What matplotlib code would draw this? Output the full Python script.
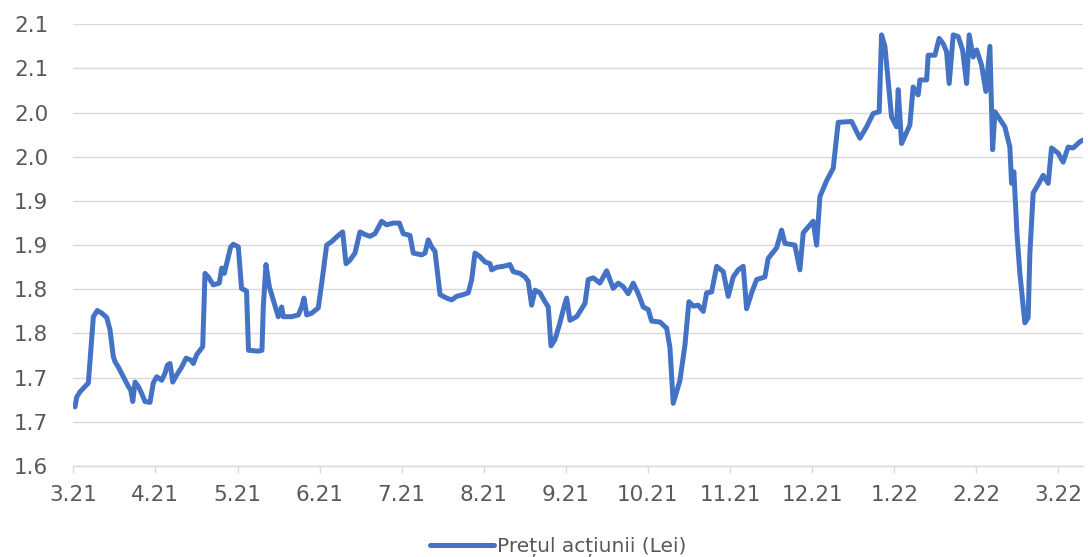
import numpy as np
import matplotlib
matplotlib.use("Agg")
import matplotlib.pyplot as plt

# position in months since 3.21 (category-axis spacing) and share price
t = [0.021, 0.041, 0.082, 0.163, 0.183, 0.244, 0.292, 0.346, 0.407, 0.447,
     0.487, 0.508, 0.548, 0.609, 0.670, 0.699, 0.724, 0.752, 0.792, 0.833,
     0.873, 0.934, 0.974, 1.016, 1.077, 1.117, 1.145, 1.178, 1.211, 1.259,
     1.320, 1.373, 1.430, 1.462, 1.503, 1.543, 1.576, 1.604, 1.644, 1.705,
     1.778, 1.808, 1.839, 1.868, 1.917, 1.949, 2.010,
     2.049, 2.110, 2.134, 2.253, 2.298, 2.314, 2.347, 2.387, 2.436, 2.497,
     2.538, 2.558, 2.660, 2.741, 2.782, 2.810, 2.843, 2.904, 2.984, 3.026,
     3.086, 3.147, 3.216, 3.281, 3.322, 3.370, 3.431, 3.492, 3.553, 3.614,
     3.675, 3.756, 3.817, 3.898, 3.971, 4.019, 4.101,
     4.141, 4.244, 4.284, 4.324, 4.365, 4.406, 4.467, 4.548, 4.609, 4.670,
     4.750, 4.811, 4.853, 4.893, 4.954, 5.015, 5.076, 5.096, 5.157, 5.238,
     5.319, 5.359, 5.441, 5.502, 5.542, 5.583, 5.624, 5.685, 5.745, 5.786,
     5.819, 5.867, 5.928, 5.977, 6.010, 6.050, 6.132, 6.172, 6.233, 6.273,
     6.334, 6.415, 6.497, 6.537, 6.577, 6.638, 6.699, 6.760, 6.821, 6.882,
     6.943, 7.004, 7.045, 7.146, 7.228, 7.268, 7.308, 7.390, 7.451, 7.499,
     7.552, 7.613, 7.674, 7.715, 7.776, 7.837, 7.917, 7.978, 8.039, 8.100,
     8.161, 8.202, 8.263, 8.324, 8.425, 8.465, 8.568, 8.628, 8.669, 8.790,
     8.851, 8.892, 9.013, 9.055, 9.095, 9.177, 9.257, 9.318, 9.481, 9.582,
     9.664, 9.744, 9.817, 9.846, 9.887, 9.968, 10.029, 10.049, 10.090, 10.191,
     10.231, 10.292, 10.313, 10.395, 10.414, 10.496, 10.548, 10.597, 10.638, 10.670,
     10.719, 10.780, 10.833, 10.882, 10.914, 10.962, 11.004, 11.064, 11.117, 11.166,
     11.199, 11.227, 11.348, 11.409, 11.430, 11.458, 11.495, 11.531, 11.592, 11.632,
     11.653, 11.693, 11.750, 11.815, 11.876, 11.917, 11.998, 12.058, 12.119, 12.180,
     12.262, 12.299]

price = [1.667, 1.678, 1.684, 1.692, 1.694, 1.769, 1.776, 1.773, 1.768, 1.754,
         1.724, 1.718, 1.712, 1.701, 1.690, 1.686, 1.673, 1.695, 1.690, 1.682,
         1.673, 1.672, 1.694, 1.701, 1.697, 1.705, 1.714, 1.716, 1.695, 1.703,
         1.712, 1.722, 1.720, 1.716, 1.726, 1.731, 1.735, 1.818, 1.814, 1.805,
         1.807, 1.824, 1.818, 1.829, 1.848, 1.851, 1.848,
         1.801, 1.798, 1.731, 1.730, 1.731, 1.780, 1.828, 1.803, 1.788, 1.769,
         1.780, 1.769, 1.769, 1.771, 1.780, 1.790, 1.771, 1.773, 1.779, 1.807,
         1.850, 1.854, 1.860, 1.865, 1.829, 1.833, 1.841, 1.865, 1.862, 1.860,
         1.863, 1.877, 1.873, 1.875, 1.875, 1.863, 1.861,
         1.841, 1.839, 1.841, 1.856, 1.848, 1.843, 1.794, 1.790, 1.788, 1.792,
         1.794, 1.796, 1.811, 1.841, 1.837, 1.831, 1.829, 1.822, 1.825, 1.826,
         1.828, 1.820, 1.818, 1.814, 1.809, 1.782, 1.799, 1.796, 1.786, 1.780,
         1.736, 1.743, 1.762, 1.780, 1.790, 1.765, 1.769, 1.775, 1.784, 1.811,
         1.813, 1.807, 1.821, 1.811, 1.801, 1.807, 1.803, 1.795, 1.807, 1.795,
         1.780, 1.777, 1.764, 1.763, 1.756, 1.734, 1.671, 1.697, 1.737, 1.786,
         1.781, 1.782, 1.775, 1.796, 1.797, 1.826, 1.820, 1.792, 1.814, 1.822,
         1.826, 1.778, 1.796, 1.811, 1.814, 1.835, 1.847, 1.867, 1.852, 1.850,
         1.822, 1.864, 1.877, 1.850, 1.905, 1.923, 1.937, 1.989, 1.990, 1.971,
         1.984, 1.999, 2.001, 2.088, 2.075, 1.995, 1.984, 2.026, 1.965, 1.986,
         2.029, 2.020, 2.037, 2.037, 2.065, 2.065, 2.084, 2.078, 2.069, 2.033,
         2.088, 2.086, 2.071, 2.033, 2.088, 2.063, 2.071, 2.054, 2.024, 2.075,
         1.958, 2.001, 1.984, 1.961, 1.920, 1.933, 1.864, 1.818, 1.762, 1.768,
         1.841, 1.909, 1.918, 1.929, 1.920, 1.960, 1.954, 1.944, 1.961, 1.960,
         1.967, 1.969]

month_labels = ['3.21', '4.21', '5.21', '6.21', '7.21', '8.21', '9.21', '10.21',
                '11.21', '12.21', '1.22', '2.22', '3.22']
y_ticks = [1.60, 1.65, 1.70, 1.75, 1.80, 1.85, 1.90, 1.95, 2.00, 2.05, 2.10]
y_labels = ['1.6', '1.7', '1.7', '1.8', '1.8', '1.9', '1.9', '2.0', '2.0', '2.1', '2.1']
series_name = 'Prețul acțiunii (Lei)'

text_col = '#595959'
plt.rcParams['font.family'] = ['DejaVu Sans']

fig = plt.figure(figsize=(10.88, 5.57), dpi=100)
ax = fig.add_axes([0.0674, 0.1634, 0.928, 0.793])

ax.plot(t, price, color='#4472C4', lw=3.6, solid_joinstyle='round',
        solid_capstyle='round', label=series_name, zorder=3)

ax.set_xlim(0, 12.3)
ax.set_ylim(1.6, 2.1)
ax.set_yticks(y_ticks)
ax.set_yticklabels(y_labels)
ax.set_xticks(range(len(month_labels)))
ax.set_xticklabels(month_labels)

ax.grid(axis='y', color='#d9d9d9', lw=1.0)
ax.set_axisbelow(True)
for s in ['top', 'right', 'left']:
    ax.spines[s].set_visible(False)
ax.spines['bottom'].set_color('#d9d9d9')
ax.spines['bottom'].set_linewidth(1.0)

ax.tick_params(axis='y', length=0, pad=18, labelsize=15.5, labelcolor=text_col)
ax.tick_params(axis='x', length=5, width=1.0, color='#d9d9d9', pad=9,
               labelsize=15.5, labelcolor=text_col)

fig.legend(loc='center', bbox_to_anchor=(0.513, 0.018), frameon=False,
           fontsize=14.5, labelcolor=text_col, handlelength=3.2,
           handletextpad=0.15)

fig.savefig('out.png', dpi=100)
